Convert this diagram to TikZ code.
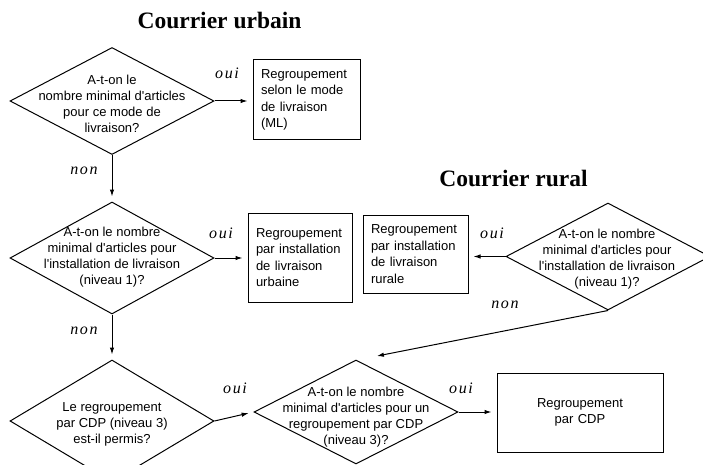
\documentclass[tikz,border=0pt]{standalone}
\usepackage{fontspec}
\setmainfont{Liberation Sans}[Ligatures=TeXOff]
\newfontfamily\titlefont{Liberation Serif}
\newfontfamily\ynfont[LetterSpace=10]{Liberation Serif}
\usepackage{tikz}
\usetikzlibrary{arrows,arrows.meta,shapes,positioning}
\tikzset{
  decision/.style = {diamond, draw, line width=1pt, inner sep=0pt, minimum width=204pt},
  dtext/.style = {align=center, inner sep=0pt, font=\fontsize{13}{16}\selectfont},
  action/.style = {rectangle, draw, line width=1pt, inner xsep=8pt, inner ysep=0pt,
  align=left, font=\fontsize{13}{16.5}\selectfont},
  titre/.style = {inner sep=0pt, font=\titlefont\bfseries\fontsize{23.5}{24}\selectfont}
}

\begin{document}
\begin{tikzpicture}[x=1pt,y=-1pt,->,>={Latex[length=7pt,width=4.5pt]},line width=1pt,
        shorten >=5pt,
        yn/.style={anchor=base, inner sep=0pt, font=\ynfont\itshape\fontsize{16}{16}\selectfont}]
    \useasboundingbox (0,0) rectangle (703,465);
    \clip (0,0) rectangle (703,465);
    % titres
    \node [titre] (urbain) at (219.5,20) {Courrier urbain};
    \node [titre] (rural) at (513.5,178) {Courrier rural};
    % losanges
    \node [decision, minimum height=107pt] (d1) at (112,101) {};
    \node [decision, minimum height=112pt] (d2) at (112,258) {};
    \node [decision, minimum height=107pt] (d3) at (608,256.5) {};
    \node [decision, minimum height=122pt] (d4) at (112,421) {};
    \node [decision, minimum height=104pt] (d5) at (356,412) {};
    \node [dtext] (t1) at (112,103.5) {A-t-on le\\nombre minimal d'articles\\pour ce mode de\\livraison?};
    \node [dtext] (t2) at (112,257.5) {A-t-on le nombre\\minimal d'articles pour\\l'installation de livraison\\(niveau 1)?};
    \node [dtext] (t3) at (607,259) {A-t-on le nombre\\minimal d'articles pour\\l'installation de livraison\\(niveau 1)?};
    \node [dtext] (t4) at (112,424.5) {Le regroupement\\par CDP (niveau 3)\\est-il permis?};
    \node [dtext] (t5) at (356,417) {A-t-on le nombre\\minimal d'articles pour un\\regroupement par CDP\\(niveau 3)?};
    % regroupements
    \node [action, text width=91pt, minimum height=80pt] (b1) at (306.5,100) {Regroupement\\selon le mode\\de livraison\\(ML)};
    \node [action, text width=88pt, minimum height=89pt] (b2) at (300,257.5) {Regroupement\\par installation\\de livraison\\urbaine};
    \node [action, text width=89pt, minimum height=78pt] (b3) at (415.5,254) {Regroupement\\par installation\\de livraison\\rurale};
    \node [action, text width=150pt, minimum height=79pt, align=center] (b4) at (580,412.5) {Regroupement\\par CDP};
    \coordinate (k) at (372,357);
    % fleches
    \draw (d1.east) -- (d1.east -| b1.west);
    \draw (d1.south) -- (d2.north);
    \draw (d2.east) -- (d2.east -| b2.west);
    \draw (d2.south) -- (d4.north);
    \draw (d3.west) -- (d3.west -| b3.east);
    \draw (d3.south) -- (k);
    \draw (d4.east) -- (d5.west);
    \draw (d5.east) -- (d5.east -| b4.west);
    % oui / non
    \node [yn] (oui1) at (227,79) {oui};
    \node [yn] (non1) at (84,175) {non};
    \node [yn] (oui2) at (221,238) {oui};
    \node [yn] (non2) at (84,334) {non};
    \node [yn] (oui3) at (492,238) {oui};
    \node [yn] (non3) at (505,308) {non};
    \node [yn] (oui4) at (235,393) {oui};
    \node [yn] (oui5) at (461,393) {oui};
\end{tikzpicture}
\end{document}
